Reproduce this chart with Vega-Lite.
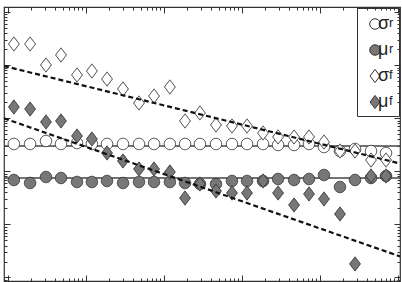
{
  "$schema": "https://vega.github.io/schema/vega-lite/v6.json",
  "width": 396,
  "height": 274,
  "autosize": "none",
  "padding": {"left": 4, "top": 7, "right": 2, "bottom": 1},
  "background": "white",
  "config": {"view": {"stroke": "#333", "strokeWidth": 1.2}, "font": "Liberation Sans"},
  "datasets": {
    "levels": [{"series": "σr", "level": 0.2995}, {"series": "μr", "level": 0.0748}],
    "fits": [
      {"fit": "σf", "x": 0.8887, "y": 9.61}, {"fit": "σf", "x": 106000, "y": 0.1403},
      {"fit": "μf", "x": 0.8887, "y": 0.9956}, {"fit": "μf", "x": 106000, "y": 0.002502}
    ],
    "points": [
      {"series": "σr", "x": 1.19, "y": 0.327}, {"series": "σr", "x": 1.92, "y": 0.327}, {"series": "σr", "x": 3.07, "y": 0.372}, {"series": "σr", "x": 4.78, "y": 0.327}, {"series": "σr", "x": 7.67, "y": 0.341},
      {"series": "σr", "x": 11.9, "y": 0.327}, {"series": "σr", "x": 18.6, "y": 0.327}, {"series": "σr", "x": 29.8, "y": 0.327}, {"series": "σr", "x": 47.8, "y": 0.327}, {"series": "σr", "x": 74.5, "y": 0.327},
      {"series": "σr", "x": 119, "y": 0.327}, {"series": "σr", "x": 186, "y": 0.327}, {"series": "σr", "x": 289, "y": 0.327}, {"series": "σr", "x": 464, "y": 0.327}, {"series": "σr", "x": 744, "y": 0.327},
      {"series": "σr", "x": 1160, "y": 0.327}, {"series": "σr", "x": 1860, "y": 0.327}, {"series": "σr", "x": 2900, "y": 0.313}, {"series": "σr", "x": 4650, "y": 0.313}, {"series": "σr", "x": 7230, "y": 0.327},
      {"series": "σr", "x": 11250, "y": 0.287}, {"series": "σr", "x": 18040, "y": 0.241}, {"series": "σr", "x": 28100, "y": 0.263}, {"series": "σr", "x": 45080, "y": 0.241}, {"series": "σr", "x": 70170, "y": 0.221},
      {"series": "μr", "x": 1.19, "y": 0.0686}, {"series": "μr", "x": 1.92, "y": 0.0602}, {"series": "μr", "x": 3.07, "y": 0.0781}, {"series": "μr", "x": 4.78, "y": 0.0748}, {"series": "μr", "x": 7.67, "y": 0.0629},
      {"series": "μr", "x": 11.9, "y": 0.0629}, {"series": "μr", "x": 18.6, "y": 0.0657}, {"series": "μr", "x": 29.8, "y": 0.0602}, {"series": "μr", "x": 47.8, "y": 0.0629}, {"series": "μr", "x": 74.5, "y": 0.0629},
      {"series": "μr", "x": 119, "y": 0.0629}, {"series": "μr", "x": 186, "y": 0.0602}, {"series": "μr", "x": 289, "y": 0.0577}, {"series": "μr", "x": 464, "y": 0.0577}, {"series": "μr", "x": 744, "y": 0.0657},
      {"series": "μr", "x": 1160, "y": 0.0657}, {"series": "μr", "x": 1860, "y": 0.0657}, {"series": "μr", "x": 2900, "y": 0.0716}, {"series": "μr", "x": 4650, "y": 0.0686}, {"series": "μr", "x": 7230, "y": 0.0716},
      {"series": "μr", "x": 11250, "y": 0.0852}, {"series": "μr", "x": 18040, "y": 0.0506}, {"series": "μr", "x": 28100, "y": 0.0686}, {"series": "μr", "x": 45080, "y": 0.0748}, {"series": "μr", "x": 70170, "y": 0.0816},
      {"series": "σf", "x": 1.19, "y": 24.97}, {"series": "σf", "x": 1.92, "y": 24.97}, {"series": "σf", "x": 3.07, "y": 10.04}, {"series": "σf", "x": 4.78, "y": 15.5}, {"series": "σf", "x": 7.67, "y": 6.51},
      {"series": "σf", "x": 11.9, "y": 7.74}, {"series": "σf", "x": 18.6, "y": 5.47}, {"series": "σf", "x": 29.8, "y": 3.55}, {"series": "σf", "x": 47.8, "y": 1.933}, {"series": "σf", "x": 74.5, "y": 2.619},
      {"series": "σf", "x": 119, "y": 3.87}, {"series": "σf", "x": 186, "y": 0.886}, {"series": "σf", "x": 289, "y": 1.253}, {"series": "σf", "x": 464, "y": 0.745}, {"series": "σf", "x": 744, "y": 0.713},
      {"series": "σf", "x": 1160, "y": 0.713}, {"series": "σf", "x": 1860, "y": 0.526}, {"series": "σf", "x": 2900, "y": 0.443}, {"series": "σf", "x": 4650, "y": 0.443}, {"series": "σf", "x": 7230, "y": 0.443},
      {"series": "σf", "x": 11250, "y": 0.356}, {"series": "σf", "x": 18040, "y": 0.241}, {"series": "σf", "x": 28100, "y": 0.241}, {"series": "σf", "x": 45080, "y": 0.163}, {"series": "σf", "x": 70170, "y": 0.163},
      {"series": "μf", "x": 1.19, "y": 1.625}, {"series": "μf", "x": 1.92, "y": 1.49}, {"series": "μf", "x": 3.07, "y": 0.848}, {"series": "μf", "x": 4.78, "y": 0.886}, {"series": "μf", "x": 7.67, "y": 0.462},
      {"series": "μf", "x": 11.9, "y": 0.406}, {"series": "μf", "x": 18.6, "y": 0.2212}, {"series": "μf", "x": 29.8, "y": 0.1563}, {"series": "μf", "x": 47.8, "y": 0.1105}, {"series": "μf", "x": 74.5, "y": 0.1105},
      {"series": "μf", "x": 119, "y": 0.097}, {"series": "μf", "x": 186, "y": 0.0314}, {"series": "μf", "x": 289, "y": 0.0577}, {"series": "μf", "x": 464, "y": 0.0426}, {"series": "μf", "x": 744, "y": 0.039},
      {"series": "μf", "x": 1160, "y": 0.039}, {"series": "μf", "x": 1860, "y": 0.0657}, {"series": "μf", "x": 2900, "y": 0.039}, {"series": "μf", "x": 4650, "y": 0.0232}, {"series": "μf", "x": 7230, "y": 0.0374},
      {"series": "μf", "x": 11250, "y": 0.0301}, {"series": "μf", "x": 18040, "y": 0.0157}, {"series": "μf", "x": 28100, "y": 0.0018}, {"series": "μf", "x": 45080, "y": 0.0816}, {"series": "μf", "x": 70170, "y": 0.0816}
    ]
  },
  "resolve": {"axis": {"x": "independent", "y": "independent"}},
  "layer": [
    {
      "data": {"name": "levels"},
      "mark": {"type": "rule", "color": "#444", "strokeWidth": 1.5},
      "encoding": {
        "y": {"field": "level", "type": "quantitative", "scale": {"type": "log", "domain": [0.000859, 124.2], "nice": false}, "axis": null}
      }
    },
    {
      "data": {"name": "points"},
      "mark": {"type": "point", "filled": true, "opacity": 1, "size": 130, "strokeWidth": 1},
      "encoding": {
        "x": {"field": "x", "type": "quantitative", "scale": {"type": "log", "domain": [0.8887, 106070], "nice": false},
          "axis": {"orient": "top", "title": null, "labels": false, "domain": false, "grid": false, "tickColor": "#333",
            "values": [0.9,1,2,3,4,5,6,7,8,9,10,20,30,40,50,60,70,80,90,100,200,300,400,500,600,700,800,900,1000,2000,3000,4000,5000,6000,7000,8000,9000,10000,20000,30000,40000,50000,60000,70000,80000,90000,100000],
            "tickSize": {"condition": {"test": "abs(log(datum.value)/LN10 - round(log(datum.value)/LN10)) < 0.001", "value": -6}, "value": -3}}},
        "y": {"field": "y", "type": "quantitative", "scale": {"type": "log", "domain": [0.000859, 124.2], "nice": false},
          "axis": {"orient": "right", "title": null, "labels": false, "domain": false, "grid": false, "tickColor": "#333",
            "values": [0.0009,0.001,0.002,0.003,0.004,0.005,0.006,0.007,0.008,0.009,0.01,0.02,0.03,0.04,0.05,0.06,0.07,0.08,0.09,0.1,0.2,0.3,0.4,0.5,0.6,0.7,0.8,0.9,1,2,3,4,5,6,7,8,9,10,20,30,40,50,60,70,80,90,100],
            "tickSize": {"condition": {"test": "abs(log(datum.value)/LN10 - round(log(datum.value)/LN10)) < 0.001", "value": -6}, "value": -3}}},
        "shape": {"field": "series", "type": "nominal",
          "scale": {"domain": ["σr", "μr", "σf", "μf"], "range": ["circle", "circle", "M0,-1.25L0.95,0L0,1.25L-0.95,0Z", "M0,-1.25L0.95,0L0,1.25L-0.95,0Z"]},
          "legend": {"orient": "none", "legendX": 362, "legendY": 8, "title": null, "padding": 0, "rowPadding": 8, "symbolSize": 110,
            "labelFontSize": 18, "labelFont": "Liberation Sans", "labelOffset": -6, "labelColor": "#222",
            "symbolStrokeWidth": 1,
            "labelExpr": "substring(datum.label, 0, 1)"}},
        "fill": {"field": "series", "type": "nominal", "scale": {"domain": ["σr", "μr", "σf", "μf"], "range": ["white", "#777777", "white", "#777777"]}},
        "stroke": {"field": "series", "type": "nominal", "scale": {"domain": ["σr", "μr", "σf", "μf"], "range": ["#333333", "#333333", "#333333", "#333333"]}},
        "strokeDash": {"field": "series", "type": "nominal", "scale": {"domain": ["σr", "μr", "σf", "μf"], "range": [[1, 0], [1, 0], [1, 0], [1, 0]]},
          "legend": {"orient": "top-right", "offset": 1, "title": null, "padding": 5, "rowPadding": 6,
            "strokeColor": "#333", "fillColor": "transparent",
            "symbolSize": 400, "symbolOpacity": 0, "symbolStrokeWidth": 0, "symbolType": "circle",
            "labelFontSize": 13, "labelFont": "Liberation Sans", "labelOffset": 7, "labelColor": "#222",
            "labelExpr": "substring(datum.label, 1, 2)",
            "encode": {"labels": {"update": {"dy": {"value": 3.5}}}}}}
      }
    },
    {
      "data": {"name": "fits"},
      "mark": {"type": "line", "color": "#111", "strokeWidth": 2.2, "strokeDash": [5, 3], "clip": true},
      "encoding": {
        "x": {"field": "x", "type": "quantitative", "scale": {"type": "log", "domain": [0.8887, 106070], "nice": false},
          "axis": {"orient": "bottom", "title": null, "labels": false, "domain": false, "grid": false, "tickColor": "#333",
            "values": [0.9,1,2,3,4,5,6,7,8,9,10,20,30,40,50,60,70,80,90,100,200,300,400,500,600,700,800,900,1000,2000,3000,4000,5000,6000,7000,8000,9000,10000,20000,30000,40000,50000,60000,70000,80000,90000,100000],
            "tickSize": {"condition": {"test": "abs(log(datum.value)/LN10 - round(log(datum.value)/LN10)) < 0.001", "value": -6}, "value": -3}}},
        "y": {"field": "y", "type": "quantitative", "scale": {"type": "log", "domain": [0.000859, 124.2], "nice": false},
          "axis": {"orient": "left", "title": null, "labels": false, "domain": false, "grid": false, "tickColor": "#333",
            "values": [0.0009,0.001,0.002,0.003,0.004,0.005,0.006,0.007,0.008,0.009,0.01,0.02,0.03,0.04,0.05,0.06,0.07,0.08,0.09,0.1,0.2,0.3,0.4,0.5,0.6,0.7,0.8,0.9,1,2,3,4,5,6,7,8,9,10,20,30,40,50,60,70,80,90,100],
            "tickSize": {"condition": {"test": "abs(log(datum.value)/LN10 - round(log(datum.value)/LN10)) < 0.001", "value": -6}, "value": -3}}},
        "detail": {"field": "fit", "type": "nominal"}
      }
    }
  ]
}
